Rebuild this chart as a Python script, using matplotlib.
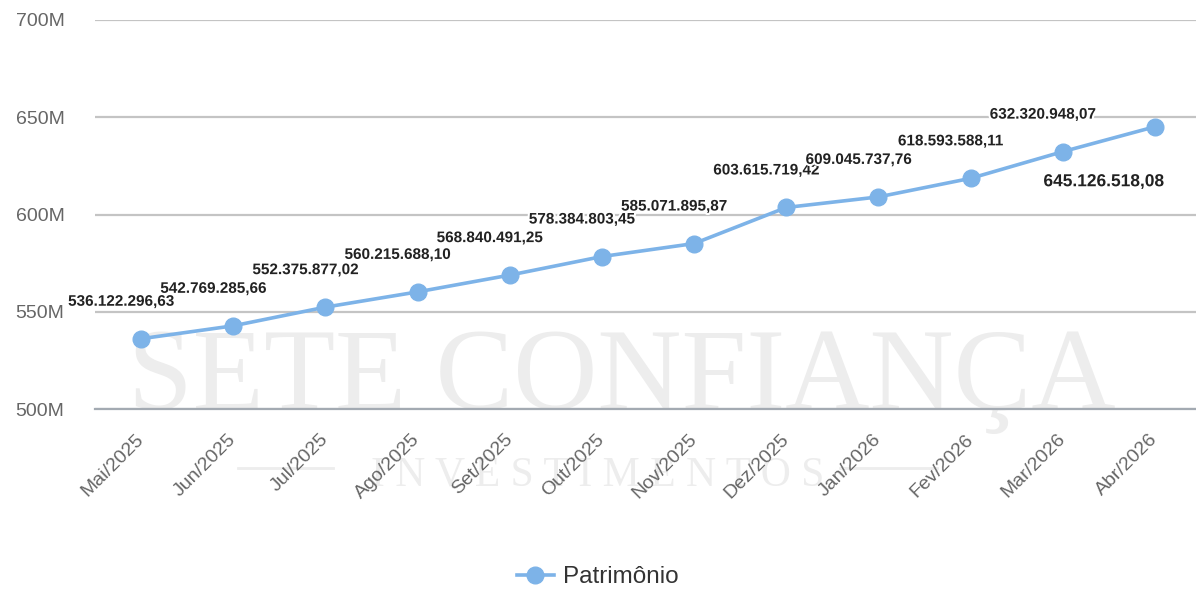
import matplotlib
matplotlib.use("Agg")
import matplotlib.pyplot as plt
import matplotlib.patheffects as pe
from matplotlib.lines import Line2D
from matplotlib.ticker import FuncFormatter

# data
months = ["Mai/2025", "Jun/2025", "Jul/2025", "Ago/2025", "Set/2025", "Out/2025",
          "Nov/2025", "Dez/2025", "Jan/2026", "Fev/2026", "Mar/2026", "Abr/2026"]
patrimonio = [536122296.63, 542769285.66, 552375877.02, 560215688.10, 568840491.25,
              578384803.45, 585071895.87, 603615719.42, 609045737.76, 618593588.11,
              632320948.07, 645126518.08]
y_ticks = [500e6, 550e6, 600e6, 650e6, 700e6]

# label offsets in pixels (label centre relative to the point)
label_dx = [-20] * 11 + [-51]
label_dy = [37] * 11 + [-55]
label_size = [11] * 11 + [12.5]

plt.rcParams["font.family"] = ["Liberation Sans", "DejaVu Sans"]

fig = plt.figure(figsize=(11.96, 5.9), dpi=100)
ax = fig.add_axes([95 / 1196, 181 / 590, 1101 / 1196, 389 / 590])
ax.patch.set_visible(False)

# watermark
fig.text(0.52, 181 / 590, "SETE CONFIANÇA", family="Liberation Serif", fontsize=84,
         color="#ededed", ha="center", va="baseline", zorder=-1)
fig.text(0.5, 104 / 590, "I N V E S T I M E N T O S", family="Liberation Serif",
         fontsize=30, color="#ededed", ha="center", va="baseline", zorder=-1)
fig.add_artist(Line2D([238 / 1196, 333 / 1196], [122 / 590, 122 / 590], color="#ededed", lw=2, zorder=-1))
fig.add_artist(Line2D([840 / 1196, 937 / 1196], [122 / 590, 122 / 590], color="#ededed", lw=2, zorder=-1))

x = list(range(len(months)))
ax.plot(x, patrimonio, color="#7db3e8", lw=2.6, marker="o", markersize=12,
        label="Patrimônio", zorder=3)

for i, v in enumerate(patrimonio):
    txt = f"{v:,.2f}".replace(",", "X").replace(".", ",").replace("X", ".")
    ax.annotate(txt, (x[i], v), xytext=(label_dx[i], label_dy[i]),
                textcoords="offset pixels", ha="center", va="center",
                fontsize=label_size[i], fontweight="bold", color="#222222", zorder=4,
                path_effects=[pe.withStroke(linewidth=3, foreground="white")])

ax.set_xlim(-0.5, 11.445)
ax.set_ylim(500e6, 700e6)
ax.set_yticks(y_ticks)
ax.yaxis.set_major_formatter(FuncFormatter(lambda v, p: f"{v / 1e6:.0f}M"))
ax.grid(axis="y", color="#c4c4c4", lw=1.6)
ax.set_axisbelow(True)
for s in ["top", "right", "left"]:
    ax.spines[s].set_visible(False)
ax.spines["bottom"].set_color("#a3aab2")
ax.spines["bottom"].set_linewidth(1.6)

ax.set_xticks(x)
ax.set_xticklabels(months)
ax.tick_params(axis="both", length=0, labelsize=14, labelcolor="#666666")
ax.tick_params(axis="y", pad=22)
ax.tick_params(axis="x", pad=20)
plt.setp(ax.get_xticklabels(), rotation=45, ha="right", va="center", rotation_mode="anchor")

fig.legend(loc="center", bbox_to_anchor=(0.5, 13 / 590), frameon=False,
           fontsize=17.5, labelcolor="#333333", handlelength=1.5, handletextpad=0.4)

fig.savefig("out.png", dpi=100)
